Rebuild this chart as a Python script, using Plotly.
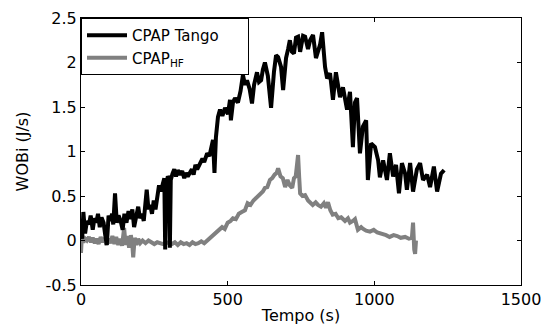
import plotly.graph_objects as go

# ---- data ----
tango_t = [0, 4, 8, 14, 20, 27, 33, 40, 46, 52, 58, 64, 70, 77, 83, 88, 94, 100, 106, 110, 116,
           122, 128, 135, 142, 148, 155, 162, 168, 175, 181, 188, 195, 201, 208, 214, 220, 224,
           230, 236, 242, 248, 254, 260, 266, 272, 278, 284, 287, 290, 296, 300, 303, 306, 312,
           318, 324, 330, 338, 345, 352, 358, 364, 372, 378, 384, 390, 396, 406, 414, 420, 430,
           438, 444, 450, 455, 460, 467, 474, 482, 491, 501, 508, 511, 518, 525, 535, 544, 552,
           559, 566, 575, 583, 590, 600, 607, 614, 620, 627, 637, 648, 658, 665, 672, 682, 689,
           699, 706, 712, 719, 726, 733, 740, 747, 757, 764, 774, 781, 791, 801, 808, 815, 822,
           832, 839, 849, 859, 869, 876, 883, 893, 900, 907, 917, 927, 934, 941, 951, 961, 972,
           978, 989, 1002, 1013, 1019, 1030, 1043, 1053, 1064, 1074, 1084, 1094, 1105, 1111,
           1122, 1132, 1145, 1156, 1166, 1180, 1190, 1203, 1214, 1227, 1238]
tango_v = [0.15, 0.02, 0.32, 0.08, 0.22, 0.18, 0.28, 0.12, 0.25, 0.2, 0.3, 0.15, 0.26, 0.2, 0.05,
           -0.05, 0.28, 0.22, 0.3, 0.18, 0.53, 0.2, 0.28, 0.22, 0.12, 0.3, 0.2, 0.33, 0.24, 0.35,
           0.15, 0.3, 0.38, 0.25, 0.3, 0.22, 0.4, 0.57, 0.35, 0.4, 0.3, 0.45, 0.35, 0.5, 0.62, 0.55,
           0.65, 0.7, -0.1, 0.62, 0.72, 0.7, -0.08, 0.68, 0.75, 0.8, 0.72, 0.79, 0.74, 0.78, 0.7,
           0.76, 0.72, 0.76, 0.8, 0.74, 0.85, 0.8, 0.87, 0.92, 0.88, 0.98, 0.95, 1.05, 1.13, 0.76,
           1.16, 1.39, 1.47, 1.4, 1.49, 1.42, 1.58, 1.35, 1.55, 1.6, 1.55, 1.68, 1.86, 1.75, 1.8,
           1.7, 1.54, 1.75, 1.89, 1.78, 1.8, 1.92, 2.0, 1.85, 1.49, 1.9, 2.08, 2.06, 1.95, 1.69,
           2.05, 2.15, 2.25, 2.12, 2.1, 2.28, 2.29, 2.12, 2.3, 2.29, 2.15, 2.25, 2.31, 2.05, 2.12,
           2.2, 2.34, 1.95, 1.82, 1.88, 1.58, 1.89, 1.75, 1.61, 1.72, 1.6, 1.47, 1.67, 1.05, 1.55,
           1.6, 0.98, 1.28, 1.35, 0.68, 1.09, 1.05, 0.9, 0.71, 0.9, 0.68, 0.98, 0.72, 0.85, 0.53,
           0.87, 0.75, 0.57, 0.87, 0.55, 0.8, 0.87, 0.68, 0.74, 0.6, 0.83, 0.55, 0.75, 0.79]

hf_t = [0, 3, 8, 14, 20, 27, 34, 40, 47, 54, 60, 67, 74, 80, 87, 94, 100, 107, 114, 120, 127,
        134, 140, 147, 152, 158, 164, 170, 175, 178, 183, 189, 195, 202, 210, 220, 230, 240,
        250, 260, 270, 280, 290, 300, 310, 320, 330, 340, 350, 360, 370, 380, 390, 400, 410,
        420, 430, 440, 450, 460, 470, 481, 490, 500, 510, 518, 528, 538, 548, 559, 568, 578,
        588, 598, 610, 620, 627, 635, 644, 652, 660, 667, 672, 680, 688, 696, 704, 712, 720,
        726, 732, 740, 744, 747, 755, 764, 774, 781, 790, 800, 808, 818, 828, 835, 842, 850,
        858, 868, 877, 887, 900, 910, 917, 927, 934, 944, 955, 962, 972, 985, 998, 1010, 1025,
        1040, 1052, 1066, 1078, 1090, 1105, 1118, 1128, 1132, 1136, 1139, 1142]
hf_v = [-0.14, 0.05, -0.02, 0.02, 0.0, 0.04, -0.02, 0.03, -0.03, 0.02, -0.04, 0.04, -0.02, 0.03,
        -0.05, 0.02, -0.03, 0.05, -0.04, 0.04, -0.05, 0.02, -0.06, 0.14, -0.05, 0.05, -0.08, 0.06,
        -0.05, -0.19, 0.03, -0.05, 0.02, -0.03, 0.0, -0.03, 0.0, -0.02, -0.04, -0.02, -0.03,
        -0.04, -0.02, -0.03, -0.04, -0.02, -0.05, -0.02, -0.04, -0.03, -0.05, -0.02, -0.04,
        -0.03, -0.01, -0.03, 0.0, 0.02, 0.05, 0.08, 0.12, 0.15, 0.13, 0.2, 0.22, 0.25, 0.24,
        0.3, 0.32, 0.34, 0.42, 0.4, 0.45, 0.48, 0.53, 0.55, 0.59, 0.6, 0.68, 0.7, 0.74, 0.76,
        0.81, 0.72, 0.7, 0.6, 0.68, 0.62, 0.59, 0.7, 0.72, 0.96, 0.7, 0.53, 0.5, 0.51, 0.45,
        0.43, 0.4, 0.43, 0.4, 0.38, 0.42, 0.37, 0.43, 0.34, 0.29, 0.3, 0.25, 0.26, 0.22, 0.25,
        0.2, 0.22, 0.24, 0.12, 0.15, 0.13, 0.11, 0.1, 0.12, 0.09, 0.08, 0.06, 0.04, 0.06, 0.05,
        0.03, 0.04, 0.02, 0.03, 0.2, -0.1, -0.15, 0.0]

series_names = ["CPAP Tango", "CPAP<sub>HF</sub>"]
x_ticks = [0, 500, 1000, 1500]
x_tick_labels = ["0", "500", "1000", "1500"]
y_ticks = [-0.5, 0, 0.5, 1, 1.5, 2, 2.5]
y_tick_labels = ["-0.5", "0", "0.5", "1", "1.5", "2", "2.5"]

FONT = "DejaVu Sans"
FS = 16
PAD = "\u00a0" * 5  # widen the legend box like the reference

fig = go.Figure()
fig.add_trace(go.Scatter(x=hf_t, y=hf_v, mode="lines", name=series_names[1],
                         line=dict(color="#808080", width=4), legendrank=2))
fig.add_trace(go.Scatter(x=tango_t, y=tango_v, mode="lines", name=series_names[0] + PAD,
                         line=dict(color="black", width=4), legendrank=1))

axis_common = dict(showline=True, linecolor="black", linewidth=1, mirror="allticks",
                   ticks="inside", ticklen=4, tickcolor="black", showgrid=False,
                   zeroline=False, automargin=False,
                   tickfont=dict(family=FONT, size=FS, color="black"))

fig.update_xaxes(range=[0, 1500], tickvals=x_ticks, ticktext=x_tick_labels,
                 title=dict(text="Tempo (s)", font=dict(family=FONT, size=FS, color="black"),
                            standoff=2),
                 **axis_common)
fig.update_yaxes(range=[-0.5, 2.5], tickvals=y_ticks, ticktext=y_tick_labels,
                 title=dict(text="WOBi (J/s)", font=dict(family=FONT, size=FS, color="black"),
                            standoff=12),
                 **axis_common)

# page body adds an 8px margin, so the figure is 8px smaller and shifted
fig.update_layout(
    template="none",
    width=544, height=317,
    margin=dict(l=73, r=31, t=10, b=40, autoexpand=False),
    paper_bgcolor="white", plot_bgcolor="white",
    font=dict(family=FONT, size=FS, color="black"),
    showlegend=True,
    legend=dict(x=0, y=1, xanchor="left", yanchor="top", bgcolor="white",
                bordercolor="black", borderwidth=1, tracegroupgap=0,
                font=dict(family=FONT, size=15, color="black"), itemwidth=40),
)

fig.write_html("out.html")
